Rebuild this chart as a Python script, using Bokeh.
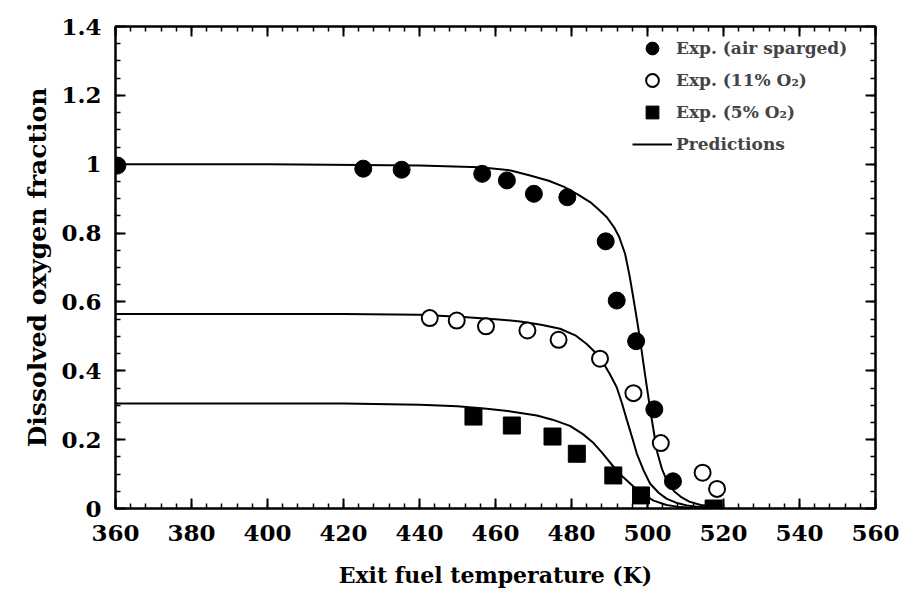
from bokeh.plotting import figure
from bokeh.models import Range1d, FixedTicker, LinearAxis, CustomJSTickFormatter, Legend, LegendItem
from bokeh.embed import file_html
from bokeh.resources import INLINE

# ---- data ----
air_T = [360.5, 425.2, 435.3, 456.5, 463.0, 470.1, 478.9, 489.0, 491.9, 497.0, 501.8, 506.7]
air_y = [0.996, 0.987, 0.984, 0.972, 0.953, 0.914, 0.904, 0.776, 0.604, 0.486, 0.288, 0.079]

o11_T = [442.7, 449.8, 457.5, 468.4, 476.6, 487.5, 496.3, 503.5, 514.5, 518.3]
o11_y = [0.553, 0.546, 0.529, 0.517, 0.490, 0.435, 0.335, 0.190, 0.104, 0.057]

o5_T = [454.2, 464.3, 475.0, 481.4, 491.0, 498.3, 517.4]
o5_y = [0.267, 0.241, 0.209, 0.159, 0.096, 0.038, 0.0]

pred_air_T = [360, 400, 440, 455.9, 464.0, 469.1, 474.0, 477.9, 481.5, 484.9, 487.0, 489.3,
              491.3, 492.5, 494.1, 495.3, 496.3, 497.2, 498.1, 499.4, 500.7, 501.7, 502.6,
              503.8, 505.1, 507.0, 509.0, 511.0, 514.0, 518.0]
pred_air_y = [1.0, 1.0, 0.996, 0.991, 0.982, 0.967, 0.952, 0.935, 0.913, 0.89, 0.87, 0.846,
              0.815, 0.79, 0.74, 0.675, 0.61, 0.55, 0.486, 0.385, 0.288, 0.22, 0.162,
              0.115, 0.08, 0.05, 0.032, 0.02, 0.01, 0.005]

pred_o11_T = [360, 420, 440.1, 451.5, 460.0, 466.5, 472.0, 477.0, 481.0, 484.0, 486.0, 488.0,
              490.0, 491.9, 493.3, 494.6, 496.0, 497.2, 499.0, 500.7, 503.0, 505.1, 508.0,
              510.4, 514.0, 518.0]
pred_o11_y = [0.565, 0.565, 0.563, 0.556, 0.550, 0.543, 0.534, 0.522, 0.503, 0.478, 0.456,
              0.430, 0.392, 0.352, 0.305, 0.256, 0.205, 0.159, 0.110, 0.072, 0.045, 0.028,
              0.015, 0.009, 0.004, 0.002]

pred_o5_T = [360, 420, 440.1, 450.0, 457.7, 464.0, 470.9, 475.0, 479.6, 483.0, 485.8, 488.2,
             491.0, 493.5, 496.3, 499.0, 501.6, 505.0, 508.6, 513.0, 518.0]
pred_o5_y = [0.305, 0.305, 0.301, 0.297, 0.290, 0.282, 0.270, 0.258, 0.240, 0.216, 0.190,
             0.160, 0.122, 0.092, 0.064, 0.040, 0.023, 0.010, 0.004, 0.001, 0.0]

x_ticks = [360, 380, 400, 420, 440, 460, 480, 500, 520, 540, 560]
y_ticks = [0, 0.2, 0.4, 0.6, 0.8, 1.0, 1.2, 1.4]
y_tick_labels = ["0", "0.2", "0.4", "0.6", "0.8", "1", "1.2", "1.4"]

legend_labels = ["Exp. (air sparged)", "Exp. (11% O\u2082)", "Exp. (5% O\u2082)", "Predictions"]

FONT = "DejaVu Serif"

p = figure(width=906, height=601, x_range=Range1d(360, 560), y_range=Range1d(0, 1.4),
           output_backend="svg", toolbar_location=None,
           min_border_left=115, min_border_right=31, min_border_top=26, min_border_bottom=93)
p.xgrid.visible = False
p.ygrid.visible = False
p.outline_line_color = "black"
p.outline_line_width = 2
p.background_fill_color = "white"
p.border_fill_color = "white"

xt = FixedTicker(ticks=x_ticks, minor_ticks=list(range(360, 561, 4)))
yt = FixedTicker(ticks=y_ticks, minor_ticks=[i * 0.05 for i in range(29)])

def style(ax):
    ax.axis_line_width = 2
    ax.axis_line_color = "black"
    ax.major_tick_in = 10
    ax.major_tick_out = 0
    ax.minor_tick_in = 5
    ax.minor_tick_out = 0
    ax.major_tick_line_width = 2
    ax.minor_tick_line_width = 1.5
    ax.major_label_text_font = FONT
    ax.major_label_text_font_style = "bold"
    ax.major_label_text_font_size = "23px"
    ax.major_label_text_color = "black"
    ax.axis_label_text_font = FONT
    ax.axis_label_text_font_style = "bold"
    ax.axis_label_text_font_size = "25px"
    ax.axis_label_text_color = "black"

xa = p.xaxis[0]
xa.ticker = xt
xa.axis_label = "Exit fuel temperature (K)"
style(xa)
xa.axis_label_text_font_size = "22px"
xa.major_label_standoff = 16
xa.axis_label_standoff = 18

ya = p.yaxis[0]
ya.ticker = yt
ya.axis_label = "Dissolved oxygen fraction"
style(ya)
ya.major_label_overrides = {t: s for t, s in zip(y_ticks, y_tick_labels)}
ya.major_label_standoff = 14
ya.axis_label_standoff = 6

blank = CustomJSTickFormatter(code="return '';")
top = LinearAxis(ticker=xt, formatter=blank)
style(top)
p.add_layout(top, "above")
right = LinearAxis(ticker=yt, formatter=blank)
style(right)
p.add_layout(right, "right")

r_pa = p.line(pred_air_T, pred_air_y, line_color="black", line_width=2)
p.line(pred_o11_T, pred_o11_y, line_color="black", line_width=2)
p.line(pred_o5_T, pred_o5_y, line_color="black", line_width=2)

r_air = p.scatter(air_T, air_y, marker="circle", size=17, fill_color="black", line_color="black")
r_o11 = p.scatter(o11_T, o11_y, marker="circle", size=16, fill_color="white",
                  line_color="black", line_width=2)
r_o5 = p.scatter(o5_T, o5_y, marker="square", size=17, fill_color="black", line_color="black")

legend = Legend(items=[LegendItem(label=legend_labels[0], renderers=[r_air]),
                       LegendItem(label=legend_labels[1], renderers=[r_o11]),
                       LegendItem(label=legend_labels[2], renderers=[r_o5]),
                       LegendItem(label=legend_labels[3], renderers=[r_pa])],
                location=(517, 348), glyph_width=40, glyph_height=32, spacing=0,
                padding=0, margin=0, label_standoff=4,
                label_text_font=FONT, label_text_font_style="bold",
                label_text_font_size="17px", border_line_color=None,
                background_fill_alpha=0)
p.add_layout(legend)

open("out.html", "w").write(file_html(p, INLINE))
